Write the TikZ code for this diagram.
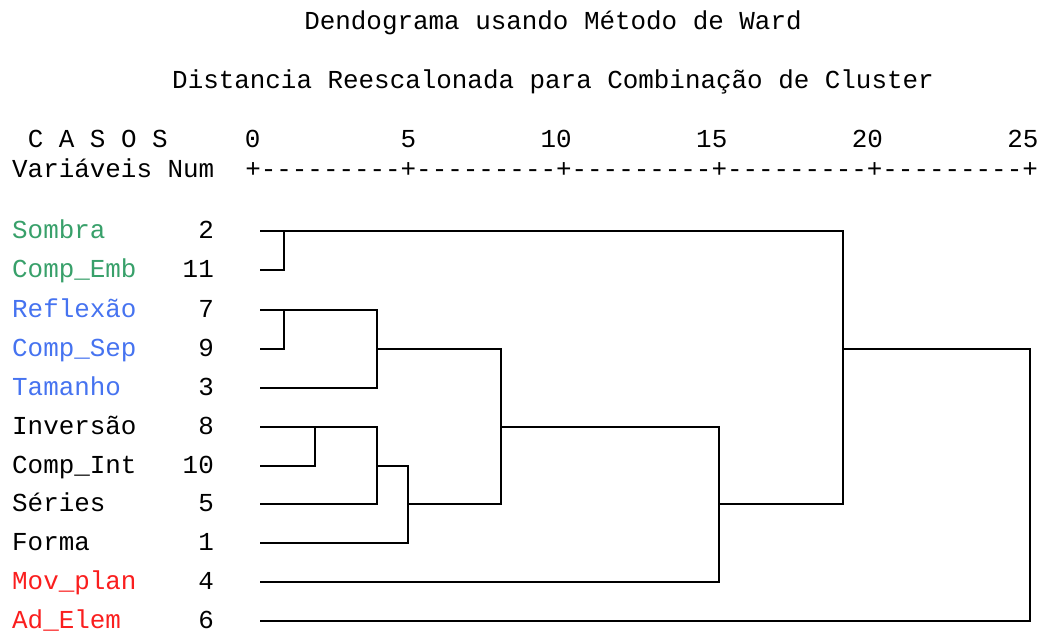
\documentclass[tikz,border=0pt]{standalone}
\usepackage{fontspec}
\setmonofont{Liberation Mono}
\definecolor{grupoverde}{RGB}{56,160,106}
\definecolor{grupoazul}{RGB}{70,115,240}
\definecolor{grupovermelho}{RGB}{250,30,30}
\tikzset{
  txt/.style={inner sep=0pt, font=\ttfamily\fontsize{25.9}{30}\selectfont},
  ramo/.style={line width=2pt, line join=miter},
}

\begin{document}
\begin{tikzpicture}[x=1pt, y=-1pt]
			%%%%% START %%%%%
			\useasboundingbox (0, 0) rectangle (1040, 632);
			
			\node[txt, anchor=base] (titulo) at (553, 29) {Dendograma usando Método de Ward};
			\node[txt, anchor=base] (subtitulo) at (553, 88) {Distancia Reescalonada para Combinação de Cluster};
			
			\node[txt, anchor=base west] (casos) at (27.6, 147) {C A S O S};
			\node[txt, anchor=base west] (varnum) at (12, 177) {Variáveis Num};
			\node[txt, anchor=base west] (regua) at (245.1, 177) {+---------+---------+---------+---------+---------+};
			
			\node[txt, anchor=base east] (t0) at (260.7, 147) {0};
			\node[txt, anchor=base east] (t5) at (416.3, 147) {5};
			\node[txt, anchor=base east] (t10) at (571.9, 147) {10};
			\node[txt, anchor=base east] (t15) at (727.5, 147) {15};
			\node[txt, anchor=base east] (t20) at (883.1, 147) {20};
			\node[txt, anchor=base east] (t25) at (1038.7, 147) {25};
			
			\node[txt, anchor=base west, color=grupoverde] (v2) at (12, 238) {Sombra};
			\node[txt, anchor=base west, color=grupoverde] (v11) at (12, 277) {Comp\_Emb};
			\node[txt, anchor=base west, color=grupoazul] (v7) at (12, 317) {Reflexão};
			\node[txt, anchor=base west, color=grupoazul] (v9) at (12, 356) {Comp\_Sep};
			\node[txt, anchor=base west, color=grupoazul] (v3) at (12, 395) {Tamanho};
			\node[txt, anchor=base west] (v8) at (12, 434) {Inversão};
			\node[txt, anchor=base west] (v10) at (12, 473) {Comp\_Int};
			\node[txt, anchor=base west] (v5) at (12, 511) {Séries};
			\node[txt, anchor=base west] (v1) at (12, 550) {Forma};
			\node[txt, anchor=base west, color=grupovermelho] (v4) at (12, 589) {Mov\_plan};
			\node[txt, anchor=base west, color=grupovermelho] (v6) at (12, 628) {Ad\_Elem};
			
			\node[txt, anchor=base east] (n2) at (214, 238) {2};
			\node[txt, anchor=base east] (n11) at (214, 277) {11};
			\node[txt, anchor=base east] (n7) at (214, 317) {7};
			\node[txt, anchor=base east] (n9) at (214, 356) {9};
			\node[txt, anchor=base east] (n3) at (214, 395) {3};
			\node[txt, anchor=base east] (n8) at (214, 434) {8};
			\node[txt, anchor=base east] (n10) at (214, 473) {10};
			\node[txt, anchor=base east] (n5) at (214, 511) {5};
			\node[txt, anchor=base east] (n1) at (214, 550) {1};
			\node[txt, anchor=base east] (n4) at (214, 589) {4};
			\node[txt, anchor=base east] (n6) at (214, 628) {6};
			
			% inicio das folhas
			\coordinate (f2) at (260, 231);
			\coordinate (f11) at (260, 270);
			\coordinate (f7) at (260, 310);
			\coordinate (f9) at (260, 349);
			\coordinate (f3) at (260, 388);
			\coordinate (f8) at (260, 427);
			\coordinate (f10) at (260, 466);
			\coordinate (f5) at (260, 504);
			\coordinate (f1) at (260, 543);
			\coordinate (f4) at (260, 582);
			\coordinate (f6) at (260, 621);
			
			% pontos de fusao
			\coordinate (m1) at (284, 231);
			\coordinate (m2) at (284, 310);
			\coordinate (m3) at (377, 349);
			\coordinate (m4) at (315, 427);
			\coordinate (m5) at (377, 466);
			\coordinate (m6) at (408, 504);
			\coordinate (m7) at (501, 427);
			\coordinate (m8) at (719, 504);
			\coordinate (m9) at (843, 349);
			\coordinate (m10) at (1030, 349);
			
			\draw[ramo] (f2) -| (m1) |- (f11);
			\draw[ramo] (f7) -| (m2) |- (f9);
			\draw[ramo] (m2) -| (m3) |- (f3);
			\draw[ramo] (f8) -| (m4) |- (f10);
			\draw[ramo] (m4) -| (m5) |- (f5);
			\draw[ramo] (m5) -| (m6) |- (f1);
			\draw[ramo] (m3) -| (m7) |- (m6);
			\draw[ramo] (m7) -| (m8) |- (f4);
			\draw[ramo] (m1) -| (m9) |- (m8);
			\draw[ramo] (m9) -| (m10) |- (f6);
			
			%%%%% END %%%%%
		\end{tikzpicture}
\end{document}
